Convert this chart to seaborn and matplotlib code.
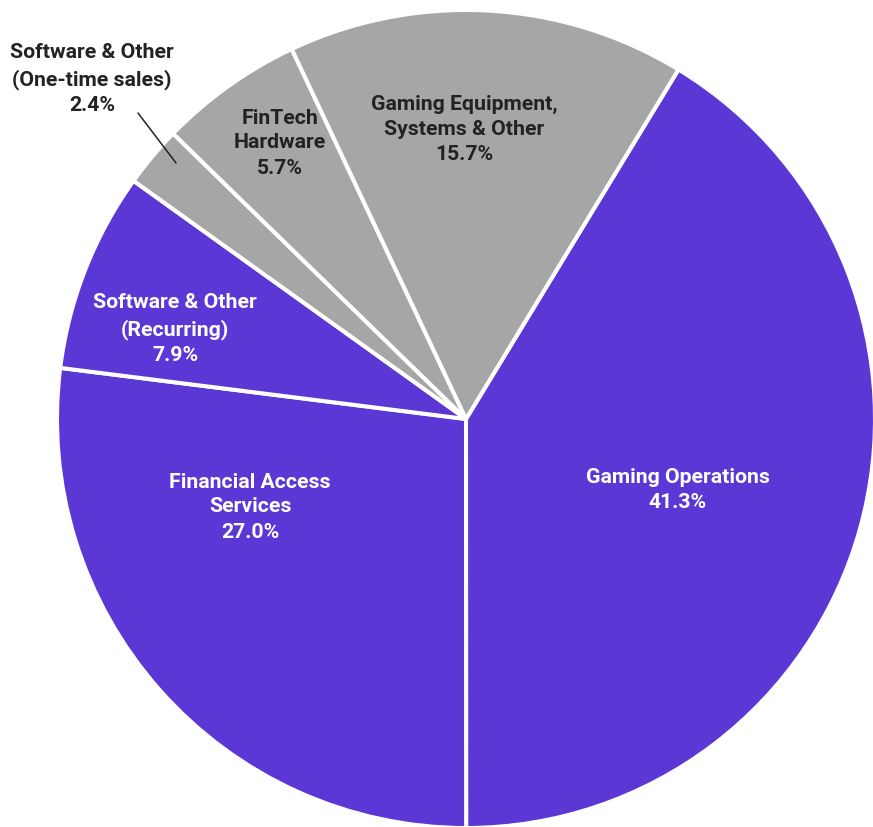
import matplotlib
matplotlib.use("Agg")
import matplotlib.pyplot as plt
import seaborn as sns

sns.set_theme(style="white")
plt.rcParams["font.family"] = ["Roboto", "DejaVu Sans"]

# Revenue mix by segment (share of total, %)
segments = [
    "Gaming Operations",
    "Financial Access\nServices",
    "Software & Other\n(Recurring)",
    "Software & Other\n(One-time sales)",
    "FinTech\nHardware",
    "Gaming Equipment,\nSystems & Other",
]
shares = [41.3, 27.0, 7.9, 2.4, 5.7, 15.7]
recurring = [True, True, True, False, False, False]

PURPLE = "#5b38d5"
GRAY = "#a6a6a6"
colors = [PURPLE if r else GRAY for r in recurring]
text_colors = ["white" if r else "#222222" for r in recurring]

W, H = 873, 827
fig = plt.figure(figsize=(W / 100, H / 100), dpi=100)
ax = fig.add_axes([0, 0, 1, 1])

cx, cy, R = 466, H - 419, 409
ax.pie(
    shares,
    colors=colors,
    startangle=58.7,
    counterclock=False,
    center=(cx, cy),
    radius=R,
    wedgeprops=dict(edgecolor="white", linewidth=2.9),
    frame=True,
)
ax.set_xlim(0, W)
ax.set_ylim(0, H)
ax.set_aspect("equal")
ax.axis("off")

# label anchors as offsets from the pie centre (pixels)
label_offsets = [
    (212, -71),
    (-216, -88),
    (-291, 90),
    (-374, 340),
    (-186, 276),
    (-2, 290),
]
for name, val, tc, (dx, dy) in zip(segments, shares, text_colors, label_offsets):
    ax.text(cx + dx, cy + dy, f"{name}\n{val:.1f}%", ha="center", va="center",
            color=tc, fontsize=15.3, fontweight="bold", linespacing=1.4)

# leader line for the small one-time slice
ax.plot([138, 176], [H - 113, H - 163], color="#222222", lw=1.1)

fig.savefig("out.png", dpi=100, facecolor="white")
